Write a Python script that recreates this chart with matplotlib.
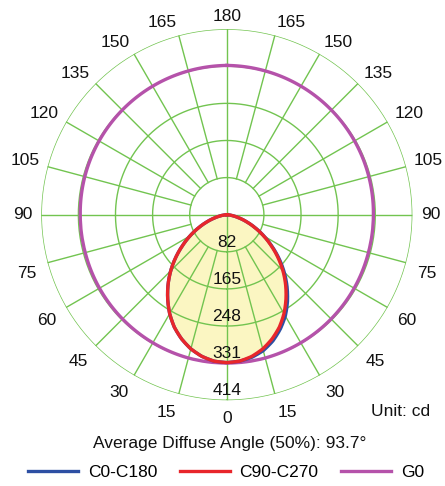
import numpy as np
import matplotlib
matplotlib.use("Agg")
import matplotlib.pyplot as plt

plt.rcParams['font.family'] = ['Liberation Sans', 'DejaVu Sans']

# Gamma angles (deg) measured from nadir
gamma = [0, 5, 10, 15, 20, 25, 30, 35, 40, 45, 50, 55, 60, 65, 70, 75, 80, 85, 90]
# Luminous intensity, cd
c0_side = [330, 328, 323, 314, 300, 282, 261, 236, 209, 181, 152, 123, 96, 71, 48, 29, 14, 4, 0]
c180_side = [330, 328, 321, 310, 295, 277, 255, 230, 204, 177, 149, 121, 95, 70, 48, 29, 14, 4, 0]
c90_side = [330, 328, 321, 310, 295, 277, 255, 230, 204, 177, 149, 121, 95, 70, 48, 29, 14, 4, 0]
c270_side = [330, 328, 321, 310, 295, 277, 255, 230, 204, 177, 149, 121, 95, 70, 48, 29, 14, 4, 0]

g0_angles = [0, 15, 30, 45, 60, 75, 90, 105, 120, 135, 150, 165, 180]
g0_values = [331, 331, 330, 329, 328, 327, 327, 328, 329, 330, 331, 332, 333]

ring_values = [82, 165, 248, 331, 414]
r_max = 414
angle_ticks = list(range(0, 181, 15))

series_names = ["C0-C180", "C90-C270", "G0"]
series_colors = ["#2d4fa3", "#e8262b", "#b552aa"]
grid_color = "#72c450"
fill_color = "#fbf6c2"


def both_sides(angles, right, left):
    a = np.radians(np.asarray(angles, float))
    th = np.concatenate([-a[::-1], a[1:]])
    r = np.concatenate([np.asarray(left, float)[::-1], np.asarray(right, float)[1:]])
    return th, r


def smooth_polar(artist, steps=40):
    # draw segments as arcs in polar space rather than straight chords
    artist.get_path()._interpolation_steps = steps


fig = plt.figure(figsize=(4.45, 4.86), dpi=100)
ax = fig.add_axes([0.0927, 0.1745, 0.834, 0.7675], projection='polar')
ax.set_theta_zero_location('S')
ax.set_theta_direction(1)
ax.set_ylim(0, r_max)
ax.grid(False)
ax.set_xticks([])
ax.set_yticks([])
ax.spines['polar'].set_visible(False)

th_c0, r_c0 = both_sides(gamma, c0_side, c180_side)
th_c90, r_c90 = both_sides(gamma, c90_side, c270_side)
th_g0, r_g0 = both_sides(g0_angles, g0_values, g0_values)

# Light fill under the C-plane curves
patch = ax.fill(th_c0, np.maximum(r_c0, r_c90), color=fill_color, zorder=0, lw=0)[0]
smooth_polar(patch)

# Grid: rings and spokes
circ = np.linspace(0, 2 * np.pi, 400)
for i, rv in enumerate(ring_values):
    ax.plot(circ, np.full_like(circ, (i + 1) * r_max / len(ring_values)),
            color=grid_color, lw=1.0, zorder=1)
for a in range(0, 360, 15):
    t = np.radians(a)
    r0 = 0 if a % 90 == 0 else r_max / len(ring_values)
    ax.plot([t, t], [r0, r_max], color=grid_color, lw=1.0, zorder=1)

# Curves
lines = []
lines += ax.plot(th_c0, r_c0, color=series_colors[0], lw=2.4, zorder=3)
lines += ax.plot(th_c90, r_c90, color=series_colors[1], lw=2.4, zorder=4)
lines += ax.plot(th_g0, r_g0, color=series_colors[2], lw=2.4, zorder=2)
for ln in lines:
    smooth_polar(ln)

# Ring value labels along the nadir axis
for rv in ring_values:
    ax.text(0, rv - 21, str(rv), ha='center', va='center', fontsize=12.5,
            color='#111111', zorder=5)

# Angle labels on both sides, anchored just outside the outer ring
for a in angle_ticks:
    sides = [a] if a in (0, 180) else [a, -a]
    for s in sides:
        if a in (0, 180):
            ha = 'center'
        else:
            ha = 'left' if s > 0 else 'right'
        if a < 90:
            va, lr = 'top', r_max * 1.06
        elif a == 90:
            va, lr = 'center', r_max * 1.045
        else:
            va, lr = 'baseline', r_max * 1.045
        ax.text(np.radians(s), lr, str(a), ha=ha, va=va,
                fontsize=12.5, color='#111111', clip_on=False)

fig.text(430 / 445, 1 - 411 / 486, "Unit: cd", ha='right', va='center',
         fontsize=12.5, color='#111111')
fig.text(230 / 445, 1 - 443 / 486, "Average Diffuse Angle (50%): 93.7°",
         ha='center', va='center', fontsize=12.5, color='#111111')

fig.legend(lines, series_names, loc='center', bbox_to_anchor=(226 / 445, 1 - 472 / 486),
           ncol=3, frameon=False, fontsize=12.5, handlelength=2.9,
           handletextpad=0.55, columnspacing=1.3, borderaxespad=0, borderpad=0)

fig.savefig("out.png", dpi=100)
